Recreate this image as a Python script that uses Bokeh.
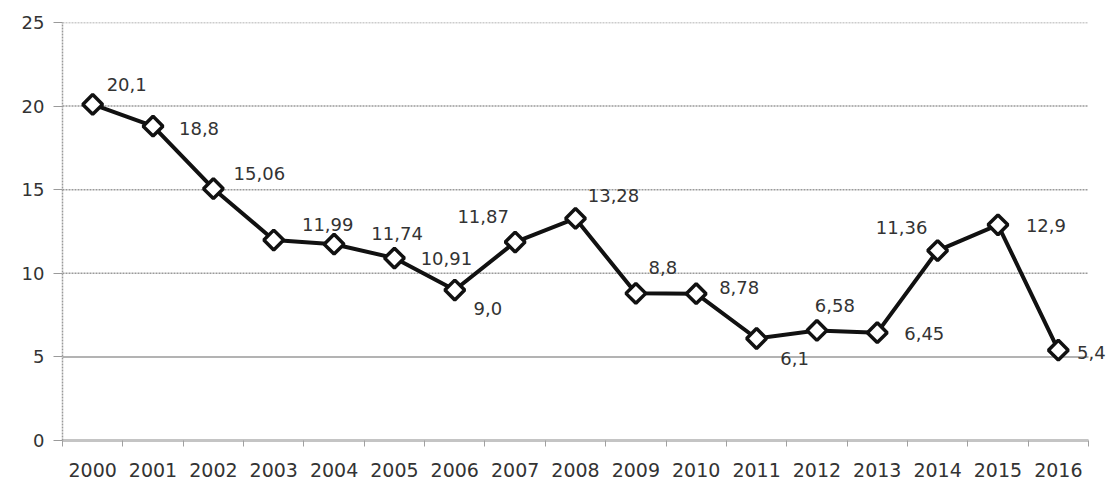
import math
from bokeh.plotting import figure
from bokeh.models import ColumnDataSource, FixedTicker, Range1d, LabelSet
from bokeh.core.properties import value
from bokeh.embed import file_html
from bokeh.resources import INLINE

# ---- data ----
years = [2000, 2001, 2002, 2003, 2004, 2005, 2006, 2007, 2008,
         2009, 2010, 2011, 2012, 2013, 2014, 2015, 2016]
values = [20.1, 18.8, 15.06, 11.99, 11.74, 10.91, 9.0, 11.87, 13.28,
          8.8, 8.78, 6.1, 6.58, 6.45, 11.36, 12.9, 5.4]
labels = ["20,1", "18,8", "15,06", "11,99", "11,74", "10,91", "9,0", "11,87", "13,28",
          "8,8", "8,78", "6,1", "6,58", "6,45", "11,36", "12,9", "5,4"]
yticks = [0, 5, 10, 15, 20, 25]

# label placement (screen pixels relative to point, +y = up)
lab_dx = [34, 46, 46, 54, 63, 52, 33, -32, 38, 27, 43, 38, 18, 47, -36, 48, 33]
lab_dy = [20, -2, 15, 16, 11, 0, -18, 26, 23, 26, 6, -20, 25, -1, 23, -1, -2]

src = ColumnDataSource(dict(x=years, y=values, lab=labels, dx=lab_dx, dy=lab_dy))

W, H = 1107, 481
left, top, bottom = 62, 22, 41
axis_px = 1026                     # pixel length of the category axis
x0, x1 = years[0] - 0.5, years[-1] + 0.5
unit = axis_px / (x1 - x0)
frame_w = W - left
x_end = x0 + frame_w / unit        # let the frame run to the edge so labels are not clipped

p = figure(width=W, height=H, output_backend="svg", toolbar_location=None,
           x_range=Range1d(x0, x_end),
           y_range=Range1d(yticks[0], yticks[-1]),
           min_border_left=left, min_border_right=0, min_border_top=top,
           min_border_bottom=bottom)
p.outline_line_color = None
p.background_fill_color = "white"
p.border_fill_color = "white"

# grid lines, limited to the axis extent
p.xgrid.visible = False
p.ygrid.visible = False
dotted = [t for t in yticks if t >= 10]
solid = [t for t in yticks if 0 < t < 10]
p.segment(x0=[x0] * len(dotted), x1=[x1] * len(dotted), y0=dotted, y1=dotted,
          line_color="#9a9a9a", line_width=1.5, line_dash="2 1", level="underlay")
p.segment(x0=[x0] * len(solid), x1=[x1] * len(solid), y0=solid, y1=solid,
          line_color="#9a9a9a", line_width=1.5, level="underlay")

# x axis
bounds = [y - 0.5 for y in years] + [years[-1] + 0.5]
p.xaxis.ticker = FixedTicker(ticks=years, minor_ticks=bounds)
p.xaxis.bounds = (x0, x1)
p.xaxis.major_label_overrides = {y: str(y) for y in years}
p.xaxis.axis_line_color = "#c4c4c4"
p.xaxis.axis_line_width = 3
p.xaxis.major_tick_line_color = None
p.xaxis.minor_tick_line_color = "#a0a0a0"
p.xaxis.minor_tick_out = 6
p.xaxis.minor_tick_in = 0
p.xaxis.major_label_standoff = 16
p.xaxis.major_label_text_font = "DejaVu Sans"
p.xaxis.major_label_text_font_size = "19px"
p.xaxis.major_label_text_color = "#333333"

# y axis
p.yaxis.ticker = FixedTicker(ticks=yticks)
p.yaxis.axis_line_color = "#9a9a9a"
p.yaxis.axis_line_dash = "2 1"
p.yaxis.axis_line_width = 1.5
p.yaxis.major_tick_line_color = "#9a9a9a"
p.yaxis.major_tick_out = 9
p.yaxis.major_tick_in = 0
p.yaxis.minor_tick_line_color = None
p.yaxis.major_label_standoff = 9
p.yaxis.major_label_text_font = "DejaVu Sans"
p.yaxis.major_label_text_font_size = "18px"
p.yaxis.major_label_text_color = "#333333"

# series
p.line("x", "y", source=src, line_color="#111111", line_width=4)
p.scatter("x", "y", source=src, marker="square", angle=math.pi / 4, size=14,
          fill_color="white", line_color="#111111", line_width=3.5)

lbl = LabelSet(x="x", y="y", text="lab", source=src, x_offset="dx", y_offset="dy",
               text_align="center", text_baseline="middle",
               text_font=value("DejaVu Sans"), text_font_size=value("18px"),
               text_color="#333333")
p.add_layout(lbl)

open("out.html", "w").write(file_html(p, INLINE))
